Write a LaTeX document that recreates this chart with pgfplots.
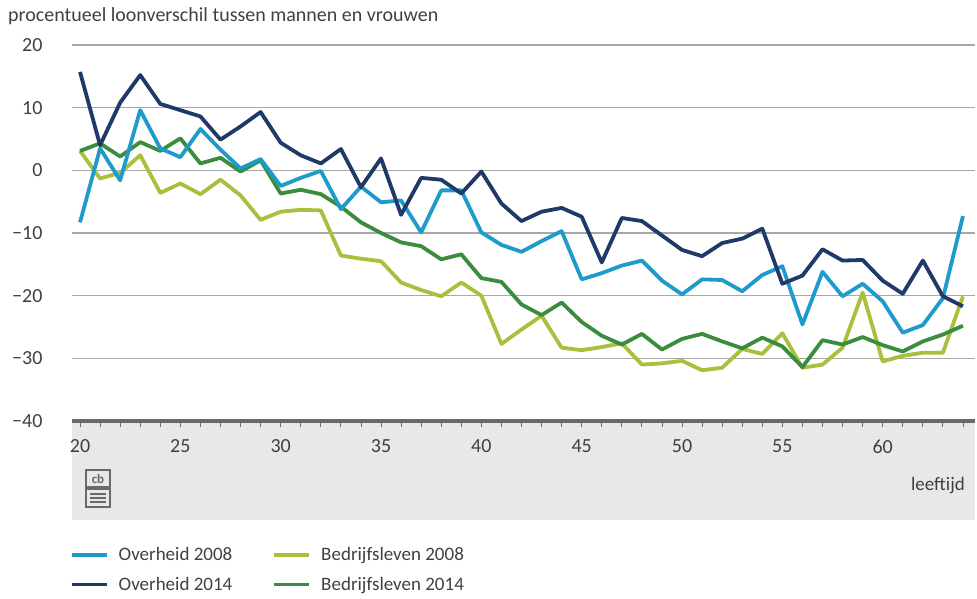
\documentclass[border=0pt]{standalone}
\usepackage{fontspec}
\setmainfont{Carlito}
\usepackage{pgfplots}
\pgfplotsset{compat=1.18}
\definecolor{ovA}{HTML}{1E9BCB}
\definecolor{ovB}{HTML}{1F3A68}
\definecolor{beA}{HTML}{A8C03C}
\definecolor{beB}{HTML}{3B8D3D}
\definecolor{gridgray}{HTML}{A8A8A8}
\definecolor{axisgray}{HTML}{6A6A6A}
\definecolor{bandgray}{HTML}{E8E8E8}
\definecolor{txt}{HTML}{404040}

\pgfplotstableread{
age ovA ovB beA beB
20 -8.3 15.7 3.1 3.1
21 3.5 4.0 -1.3 4.3
22 -1.6 10.8 -0.4 2.2
23 9.6 15.2 2.4 4.5
24 3.5 10.6 -3.6 3.1
25 2.1 9.6 -2.1 5.1
26 6.6 8.6 -3.8 1.1
27 3.3 4.9 -1.5 2.0
28 0.3 7.0 -4.0 -0.2
29 1.8 9.3 -7.9 1.6
30 -2.5 4.4 -6.6 -3.7
31 -1.2 2.4 -6.3 -3.1
32 -0.1 1.1 -6.4 -3.8
33 -6.2 3.4 -13.6 -5.8
34 -2.6 -2.7 -14.1 -8.3
35 -5.1 1.9 -14.5 -10.0
36 -4.8 -7.1 -17.9 -11.5
37 -9.9 -1.2 -19.1 -12.1
38 -3.2 -1.5 -20.1 -14.2
39 -3.2 -3.7 -17.9 -13.4
40 -9.9 -0.2 -20.0 -17.2
41 -11.9 -5.3 -27.7 -17.8
42 -13.0 -8.1 -25.4 -21.4
43 -11.3 -6.6 -23.2 -23.1
44 -9.7 -6.0 -28.3 -21.1
45 -17.4 -7.4 -28.7 -24.2
46 -16.4 -14.7 -28.2 -26.4
47 -15.2 -7.6 -27.6 -27.8
48 -14.4 -8.1 -31.0 -26.1
49 -17.6 -10.4 -30.8 -28.6
50 -19.8 -12.7 -30.4 -26.9
51 -17.4 -13.7 -31.9 -26.1
52 -17.5 -11.6 -31.5 -27.3
53 -19.3 -10.9 -28.5 -28.4
54 -16.7 -9.3 -29.3 -26.7
55 -15.3 -18.1 -26.0 -28.1
56 -24.6 -16.8 -31.5 -31.4
57 -16.2 -12.6 -31.0 -27.1
58 -20.1 -14.4 -28.3 -27.8
59 -18.1 -14.3 -19.5 -26.6
60 -20.9 -17.6 -30.5 -27.9
61 -25.9 -19.7 -29.6 -28.9
62 -24.7 -14.4 -29.1 -27.3
63 -20.4 -20.1 -29.1 -26.2
64 -7.3 -21.7 -20.1 -24.8
}\datatable

\begin{document}
\begin{tikzpicture}
\path (-72pt,-178pt) rectangle (905pt,421pt);
\fill[bandgray] (0pt,-99pt) rectangle (903pt,-2pt);
\begin{axis}[
  at={(0pt,0pt)}, anchor=south west,
  scale only axis, width=903pt, height=376pt,
  xmin=19.6, xmax=64.6, ymin=-40, ymax=20,
  separate axis lines,
  axis x line*=bottom, axis y line*=left,
  x axis line style={draw=axisgray, line width=3.5pt, -},
  y axis line style={draw=none},
  ytick={-40,-30,...,20},
  yticklabels={−40,−30,−20,−10,0,10,20},
  ymajorgrids, major grid style={draw=gridgray, line width=1.1pt},
  ytick style={draw=none},
  xtick={20,25,...,60},
  minor xtick={20,...,64},
  tick align=outside,
  major tick length=6pt, minor tick length=6pt,
  xtick style={draw=axisgray, line width=0.8pt},
  minor x tick style={draw=axisgray, line width=0.8pt},
  /pgf/number format/assume math mode=true,
  ticklabel style={font=\fontsize{20}{22}\selectfont, text=txt},
  xticklabel style={yshift=-9pt},
  yticklabel style={xshift=-20pt},
  clip=false,
  legend columns=2,
  legend cell align=left,
  legend style={at={(-0.006,-0.325)}, anchor=north west, draw=none, fill=none,
    font=\fontsize{19}{22}\selectfont, text=txt,
    /tikz/every even column/.append style={column sep=38pt},
    row sep=11pt},
  legend image code/.code={\draw[#1, line width=3.8pt] (0pt,0pt) -- (35pt,0pt);\path[draw=none] (0pt,0pt) -- (45pt,0pt);},
]
\addplot[beA, line width=3.8pt, line join=round, forget plot] table[x=age, y=beA] {\datatable};
\addplot[beB, line width=3.8pt, line join=round, forget plot] table[x=age, y=beB] {\datatable};
\addplot[ovA, line width=3.8pt, line join=round, forget plot] table[x=age, y=ovA] {\datatable};
\addplot[ovB, line width=3.8pt, line join=round, forget plot] table[x=age, y=ovB] {\datatable};
\addlegendimage{ovA}\addlegendentry{Overheid 2008}
\addlegendimage{beA}\addlegendentry{Bedrijfsleven 2008}
\addlegendimage{ovB}\addlegendentry{Overheid 2014}
\addlegendimage{beB}\addlegendentry{Bedrijfsleven 2014}
\end{axis}
\node[anchor=base west, font=\fontsize{20}{22}\selectfont, text=txt, inner sep=0pt] at (-64pt,399pt) {procentueel loonverschil tussen mannen en vrouwen};
\node[anchor=base east, font=\fontsize{19}{22}\selectfont, text=txt, inner sep=0pt] at (893pt,-70pt) {leeftijd};
% CBS logo
\begin{scope}[draw=axisgray, line width=1.2pt]
\draw (14pt,-49pt) rectangle (38pt,-66pt);
\node[font=\bfseries\fontsize{13}{13}\selectfont, text=axisgray, inner sep=0pt] at (26pt,-57.5pt) {cb};
\draw (14pt,-68pt) rectangle (38pt,-86pt);
\draw (18pt,-73pt) -- (34pt,-73pt);
\draw (18pt,-77pt) -- (34pt,-77pt);
\draw (18pt,-81pt) -- (34pt,-81pt);
\end{scope}
\end{tikzpicture}
\end{document}
